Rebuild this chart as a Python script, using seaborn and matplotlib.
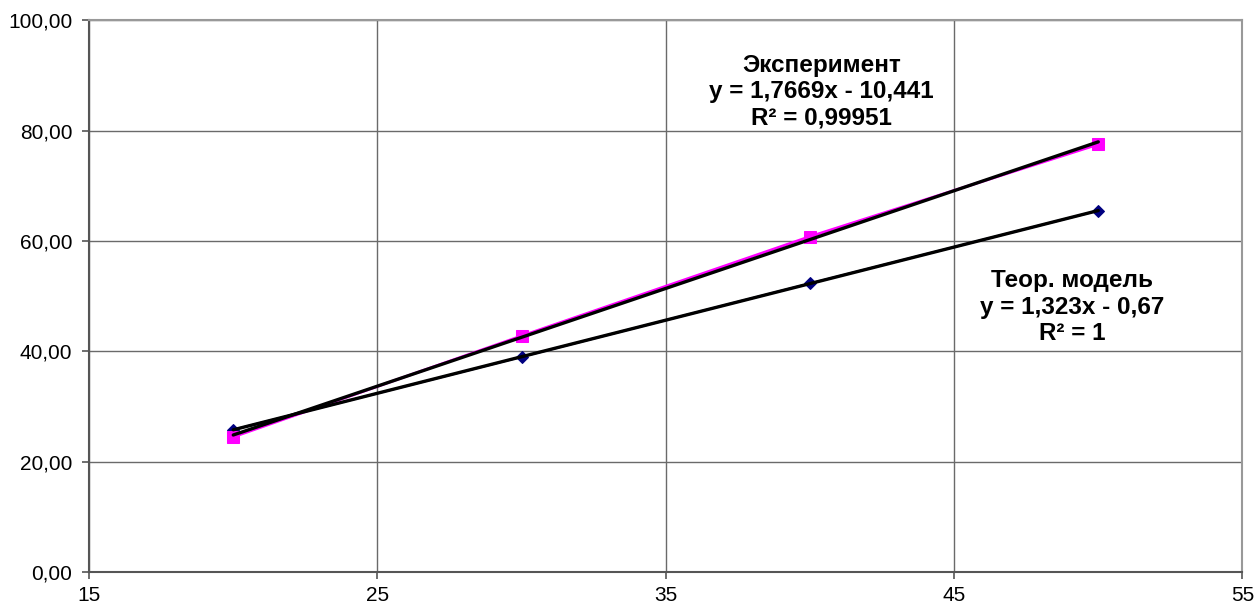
import numpy as np
import pandas as pd
import matplotlib
matplotlib.use("Agg")
import matplotlib.pyplot as plt
import seaborn as sns
from matplotlib.ticker import FuncFormatter

# ---------------- data ----------------
x_vals = [20, 30, 40, 50]
exp_vals = [24.5, 42.8, 60.8, 77.5]      # Эксперимент
theory_vals = [25.8, 39.0, 52.3, 65.5]   # Теор. модель

x_ticks = [15, 25, 35, 45, 55]
y_ticks = [0, 20, 40, 60, 80, 100]

exp_label = "Эксперимент\ny = 1,7669x - 10,441\nR² = 0,99951"
theory_label = "Теор. модель\ny = 1,323x - 0,67\nR² = 1"

df = pd.DataFrame({"x": x_vals, "exp": exp_vals, "theory": theory_vals})

# ---------------- plot ----------------
sns.set_style("white")
plt.rcParams["font.family"] = ["Liberation Sans", "DejaVu Sans"]
plt.rcParams["text.color"] = "black"

fig = plt.figure(figsize=(12.55, 6.10), dpi=100)
ax = fig.add_axes([0.071, 0.062, 0.919, 0.905])

# series lines with markers
sns.lineplot(data=df, x="x", y="theory", ax=ax, color="#000080",
             marker="D", markersize=6, markeredgecolor="#000080",
             linewidth=1.5, zorder=3)
sns.lineplot(data=df, x="x", y="exp", ax=ax, color="#ff00ff",
             marker="s", markersize=8, markeredgecolor="#ff00ff",
             linewidth=2, zorder=3)

# linear trendlines
sns.regplot(data=df, x="x", y="theory", ax=ax, scatter=False, ci=None,
            truncate=True, line_kws={"color": "black", "linewidth": 2.4, "zorder": 4})
sns.regplot(data=df, x="x", y="exp", ax=ax, scatter=False, ci=None,
            truncate=True, line_kws={"color": "black", "linewidth": 2.4, "zorder": 4})

ax.set_xlim(15, 55)
ax.set_ylim(0, 100)
ax.set_xticks(x_ticks)
ax.set_yticks(y_ticks)
ax.yaxis.set_major_formatter(FuncFormatter(lambda v, p: f"{v:.2f}".replace(".", ",")))
ax.set_xlabel("")
ax.set_ylabel("")

ax.grid(True, color="#6a6a6a", linewidth=1)
ax.set_axisbelow(True)

for side in ["left", "bottom"]:
    ax.spines[side].set_color("#555555")
    ax.spines[side].set_linewidth(1.5)
for side in ["top", "right"]:
    ax.spines[side].set_color("#999999")
    ax.spines[side].set_linewidth(1.5)

ax.tick_params(axis="both", direction="out", length=5, width=1.2,
               color="#555555", labelsize=15, labelcolor="black")
ax.tick_params(axis="y", pad=7)
ax.tick_params(axis="x", pad=5)
ax.tick_params(axis="both", which="both", left=True, bottom=True)

ax.text(40.4, 87, exp_label, ha="center", va="center", fontsize=17.5,
        fontweight="bold", linespacing=1.2, color="black", zorder=5)
ax.text(49.1, 48, theory_label, ha="center", va="center", fontsize=17.5,
        fontweight="bold", linespacing=1.2, color="black", zorder=5)

fig.savefig("out.png", dpi=100)
